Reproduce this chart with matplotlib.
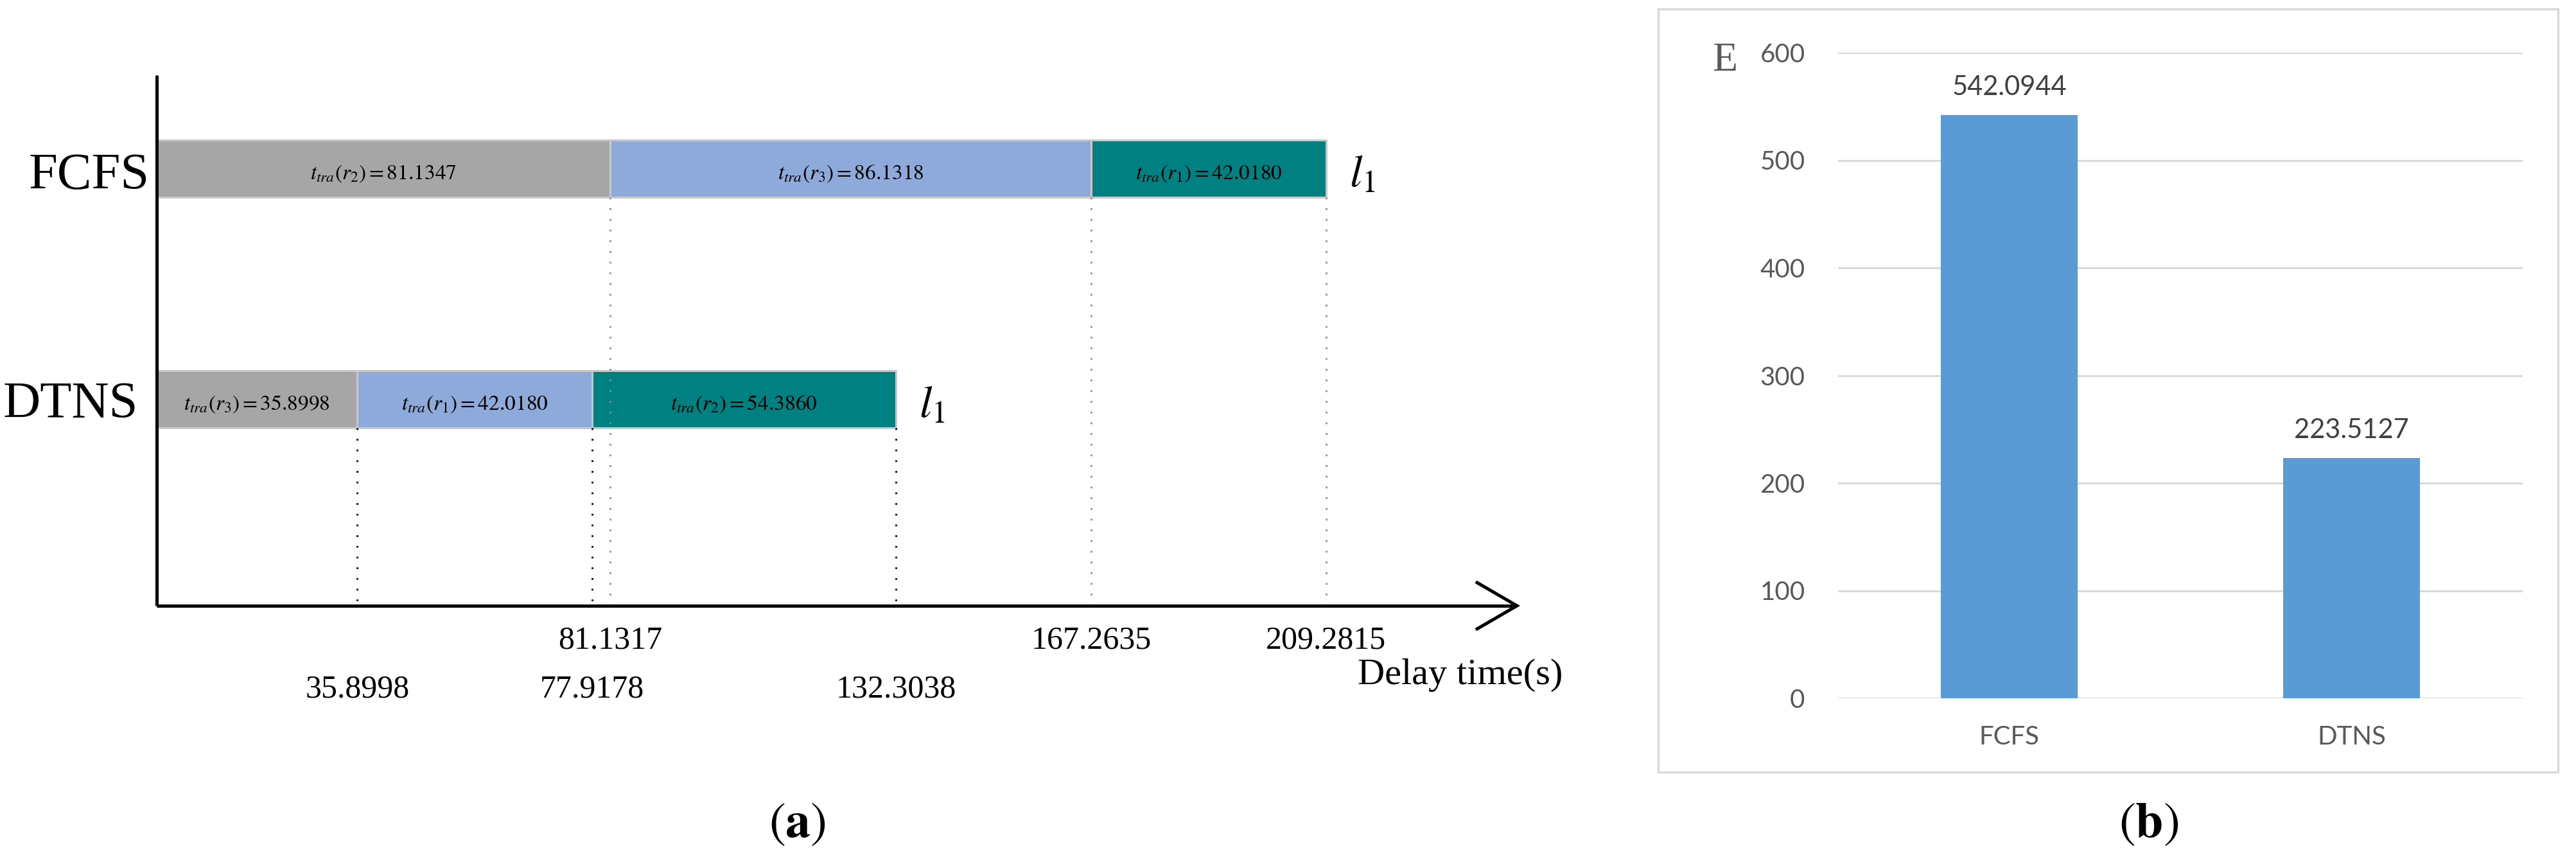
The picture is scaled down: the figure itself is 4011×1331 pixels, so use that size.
import numpy as np
import matplotlib
matplotlib.use("Agg")
import matplotlib.pyplot as plt
from matplotlib.patches import Rectangle

# ---------------- data ----------------
schemes = ["FCFS", "DTNS"]
fcfs_tasks = ["r_2", "r_3", "r_1"]
fcfs_durations = [81.1347, 86.1318, 42.0180]
dtns_tasks = ["r_3", "r_1", "r_2"]
dtns_durations = [35.8998, 42.0180, 54.3860]
fcfs_ticks = [81.1317, 167.2635, 209.2815]
fcfs_tick_labels = ["81.1317", "167.2635", "209.2815"]
dtns_ticks = [35.8998, 77.9178, 132.3038]
dtns_tick_labels = ["35.8998", "77.9178", "132.3038"]
segment_colors = ["#a6a6a6", "#8eaadb", "#008080"]
x_label = "Delay time(s)"

energy_categories = ["FCFS", "DTNS"]
energy_values = [542.0944, 223.5127]
energy_ticks = [0, 100, 200, 300, 400, 500, 600]
energy_ylabel = "E"

# ---------------- style ----------------
plt.rcParams['font.family'] = ['Liberation Serif', 'DejaVu Serif']
plt.rcParams['mathtext.fontset'] = 'stix'

W, H = 4011, 1331
fig = plt.figure(figsize=(W / 100, H / 100), dpi=100)

# ---------------- panel (a) ----------------
X0 = 244.0      # pixel of time 0
SCALE = 8.7     # pixels per second
def px2x(px):
    return (px - X0) / SCALE

ax = fig.add_axes([0, 0, 1, 1])
ax.set_xlim(px2x(0), px2x(W))
ax.set_ylim(H, 0)
ax.axis('off')

row_y = [262, 621]
bar_h = 89
axis_y = 943
axis_top = 117

all_durations = [fcfs_durations, dtns_durations]
all_tasks = [fcfs_tasks, dtns_tasks]
for yc, durs, tasks in zip(row_y, all_durations, all_tasks):
    durs = np.asarray(durs)
    lefts = np.concatenate([[0.0], np.cumsum(durs)[:-1]])
    ax.barh([yc] * len(durs), durs, left=lefts, height=bar_h,
            color=segment_colors, edgecolor='#c8c8c8', linewidth=2.2, zorder=2)
    for l, d, t in zip(lefts, durs, tasks):
        ax.text(l + d / 2, yc + 17, rf"$t_{{tra}}({t})={d:.4f}$",
                ha='center', va='baseline', fontsize=24, zorder=4)
    ax.text(lefts[-1] + durs[-1] + px2x(X0 + 36), yc + 29, r"$l_1$",
            ha='left', va='baseline', fontsize=50)

# scheme labels
ax.text(px2x(233), 294, schemes[0], ha='right', va='baseline', fontsize=58)
ax.text(px2x(215), 650, schemes[1], ha='right', va='baseline', fontsize=58)

# dotted guide lines
for t in fcfs_ticks:
    ax.plot([t, t], [row_y[0] + bar_h / 2, axis_y], color='#8c8c8c', lw=2,
            ls=(0, (1, 5)), zorder=5)
for t in dtns_ticks:
    ax.plot([t, t], [row_y[1] + bar_h / 2, axis_y], color='black', lw=2,
            ls=(0, (1, 5)), zorder=5)

# axes with arrow
x_tip = px2x(2362)
ax.plot([0, 0], [axis_top, axis_y], color='black', lw=3.6, solid_capstyle='butt', zorder=6)
ax.plot([0, x_tip], [axis_y, axis_y], color='black', lw=3.6, solid_capstyle='butt', zorder=6)
ax.plot([x_tip - 62 / SCALE, x_tip, x_tip - 62 / SCALE],
        [axis_y - 36, axis_y, axis_y + 36], color='black', lw=3.6,
        solid_joinstyle='miter', zorder=6)

# tick labels
for t, lab in zip(fcfs_ticks, fcfs_tick_labels):
    ax.text(t, 1010, lab, ha='center', va='baseline', fontsize=36)
for t, lab in zip(dtns_ticks, dtns_tick_labels):
    ax.text(t, 1086, lab, ha='center', va='baseline', fontsize=36)
ax.text(px2x(2114), 1065, x_label, ha='left', va='baseline', fontsize=42)

ax.text(px2x(1241), 1303, r"$(\mathbf{a})$", ha='center', va='baseline', fontsize=56)
ax.text(px2x(3346), 1303, r"$(\mathbf{b})$", ha='center', va='baseline', fontsize=56)

# ---------------- panel (b) ----------------
frame = Rectangle((2582 / W, (H - 1202) / H), (3983 - 2582) / W, (1202 - 14) / H,
                  transform=fig.transFigure, fill=False, edgecolor='#d9d9d9', lw=2.5)
fig.add_artist(frame)

axb = fig.add_axes([2862 / W, (H - 1087) / H, (3928 - 2862) / W, (1087 - 82) / H])
axb.patch.set_alpha(0)
xpos = np.arange(len(energy_categories))
bars = axb.bar(xpos, energy_values, width=0.4, color='#5b9bd5', zorder=3)
axb.set_xlim(-0.5, 1.5)
axb.set_ylim(0, 600)
axb.set_yticks(energy_ticks)
axb.set_xticks(xpos)
axb.set_xticklabels(energy_categories)
for s in axb.spines.values():
    s.set_visible(False)
axb.grid(axis='y', color='#d9d9d9', lw=2.2, zorder=0)
axb.set_axisbelow(True)
axb.tick_params(axis='y', length=0, pad=37, labelsize=29, labelcolor='#595959')
axb.tick_params(axis='x', length=0, pad=30, labelsize=29, labelcolor='#595959')
for lab in axb.get_xticklabels() + axb.get_yticklabels():
    lab.set_family(['Lato', 'DejaVu Sans'])
for xv, v in zip(xpos, energy_values):
    axb.annotate(f"{v:.4f}", (xv, v), xytext=(0, 31), textcoords='offset points',
                 ha='center', va='center', fontsize=30, color='#404040',
                 family=['Lato', 'DejaVu Sans'])

fig.text(2686 / W, (H - 110) / H, energy_ylabel, ha='center', va='baseline',
         fontsize=46, color='#595959')

fig.savefig('out.png', dpi=100)
